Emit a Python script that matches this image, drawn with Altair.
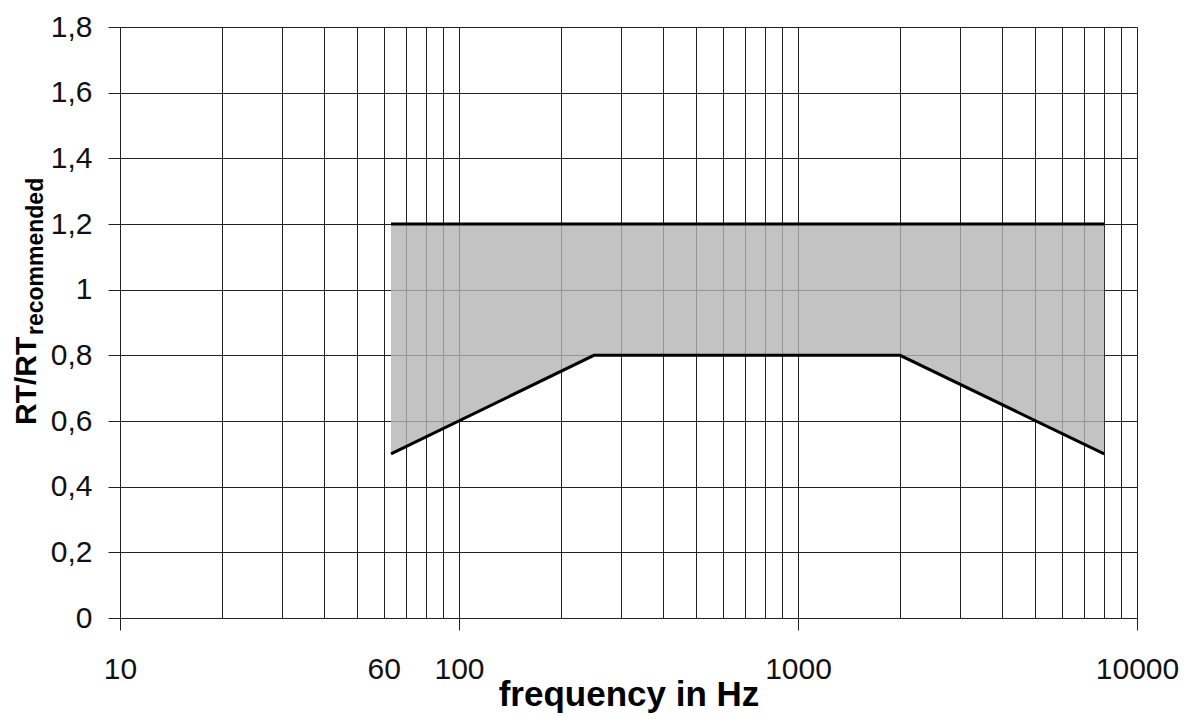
import altair as alt
import pandas as pd

# Data
freq = [63, 250, 2000, 8000]
lower = [0.5, 0.8, 0.8, 0.5]
upper = [1.2, 1.2, 1.2, 1.2]

grid_freqs = [10, 20, 30, 40, 50, 60, 70, 80, 90,
              100, 200, 300, 400, 500, 600, 700, 800, 900,
              1000, 2000, 3000, 4000, 5000, 6000, 7000, 8000, 9000,
              10000]
x_label_values = [10, 60, 100, 1000, 10000]
decade_ticks = [10, 100, 1000, 10000]
y_ticks = [0, 0.2, 0.4, 0.6, 0.8, 1.0, 1.2, 1.4, 1.6, 1.8]

df = pd.DataFrame({"freq": freq, "lower": lower, "upper": upper})

W, H = 1017, 591
FONT = "Liberation Sans"

lab_test = "indexof([" + ",".join(str(v) for v in x_label_values) + "], datum.value) >= 0"
tick_test = "indexof([" + ",".join(str(v) for v in decade_ticks) + "], datum.value) >= 0"

x_scale = alt.Scale(type="log", domain=[10, 10000], nice=False)
y_scale = alt.Scale(domain=[0, 1.8], nice=False, zero=False)

x_axis = alt.Axis(
    values=grid_freqs,
    grid=True,
    gridColor="#222222",
    gridWidth=1,
    ticks=True,
    tickSize=12,
    tickColor="#222222",
    tickOpacity={"condition": {"test": tick_test, "value": 1}, "value": 0},
    labelExpr=f"{lab_test} ? format(datum.value, 'd') : ''",
    labelOverlap=False,
    labelFlush=False,
    labelFont=FONT,
    labelFontSize=30,
    labelColor="#111111",
    labelPadding=24,
    domainColor="#222222",
    title="frequency in Hz",
    titleFont=FONT,
    titleFontSize=35,
    titleFontWeight="bold",
    titleColor="#000000",
    titleBaseline="alphabetic",
    titleY=87,
)

y_axis = alt.Axis(
    values=y_ticks,
    grid=True,
    gridColor="#222222",
    gridWidth=1,
    tickSize=12,
    tickColor="#222222",
    labelExpr="replace(format(datum.value, '.1~f'), '.', ',')",
    labelFont=FONT,
    labelFontSize=30,
    labelColor="#111111",
    labelPadding=16,
    labelBaseline="middle",
    domainColor="#222222",
    title=None,
)

area = alt.Chart(df).mark_area(
    color="#b4b4b4", opacity=0.8, interpolate="linear"
).encode(
    x=alt.X("freq:Q", scale=x_scale, axis=x_axis),
    y=alt.Y("lower:Q", scale=y_scale, axis=y_axis),
    y2="upper:Q",
)

upper_line = alt.Chart(df).mark_line(color="#000000", strokeWidth=3).encode(
    x=alt.X("freq:Q", scale=x_scale),
    y=alt.Y("upper:Q", scale=y_scale),
)

lower_line = alt.Chart(df).mark_line(color="#000000", strokeWidth=3).encode(
    x=alt.X("freq:Q", scale=x_scale),
    y=alt.Y("lower:Q", scale=y_scale),
)

title_main = alt.Chart(pd.DataFrame({"t": ["RT/RT"]})).mark_text(
    angle=270, align="left", baseline="alphabetic",
    font=FONT, fontSize=30, fontWeight="bold", color="#000000",
).encode(x=alt.value(-84), y=alt.value(398), text="t:N")

title_sub = alt.Chart(pd.DataFrame({"t": ["recommended"]})).mark_text(
    angle=270, align="left", baseline="alphabetic",
    font=FONT, fontSize=23, fontWeight="bold", color="#000000",
).encode(x=alt.value(-77), y=alt.value(308), text="t:N")

chart = alt.layer(area, upper_line, lower_line, title_main, title_sub).properties(
    width=W,
    height=H,
    autosize=alt.AutoSizeParams(type="none"),
    padding={"left": 112, "top": 19, "right": 43, "bottom": 95},
).configure_view(
    stroke="#222222", strokeWidth=1
).configure(background="#ffffff")

chart.save("out.html", embed_options={"renderer": "svg", "actions": False})
